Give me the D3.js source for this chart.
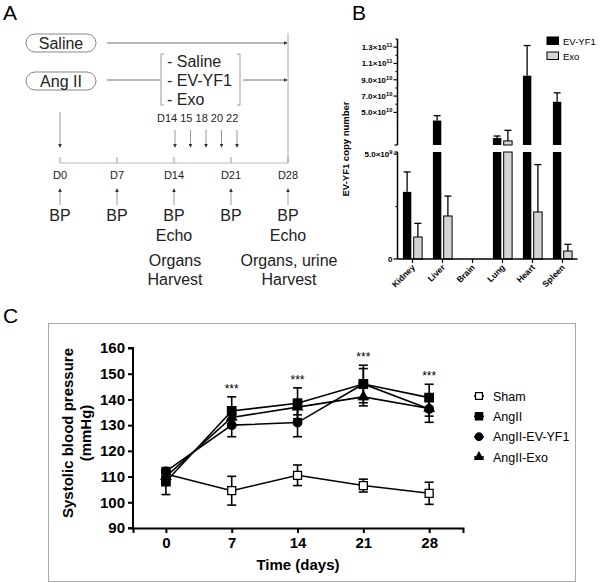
<!DOCTYPE html>
<html><head><meta charset="utf-8">
<script src="https://cdn.jsdelivr.net/npm/d3@7"></script>
<style>body{margin:0;background:#fff} svg{display:block} text{font-family:Arial,"Liberation Sans",sans-serif}</style>
</head><body><svg id="c" width="600" height="583"></svg>
<script>
// ---------- Panel A data ----------
const timelineDays = [0, 7, 14, 21, 28];
const timelineLabels = ["D0", "D7", "D14", "D21", "D28"];
const measureLabels = [["BP"], ["BP"], ["BP", "Echo"], ["BP"], ["BP", "Echo"]];
const harvestLabels = [[], [], ["Organs", "Harvest"], [], ["Organs, urine", "Harvest"]];
const injectionLabels = ["D14", "15", "18", "20", "22"];
const groupNames = ["Saline", "Ang II"];
const treatments = ["- Saline", "- EV-YF1", "- Exo"];

// ---------- Panel B data ----------
const organs = ["Kidney", "Liver", "Brain", "Lung", "Heart", "Spleen"];
const evyf1Copies = [3.2e9, 4.0e10, 0, 1.85e10, 9.5e10, 6.3e10];
const evyf1Err = [0.95e9, 0.6e10, 0, 0.25e10, 3.7e10, 1.1e10];
const exoCopies = [1.05e9, 2.05e9, 0, 1.5e10, 2.24e9, 0.38e9];
const exoErr = [0.65e9, 0.95e9, 0, 1.3e10, 2.26e9, 0.32e9];
const upperMajorTicks = [5e10, 7e10, 9e10, 1.1e11, 1.3e11];
const upperMinorTicks = [6e10, 8e10, 1e11, 1.2e11, 1.4e11];
const lowerMajorTicks = [0, 5e9];
const lowerMinorTicks = [2.5e9];
const seriesB = ["EV-YF1", "Exo"];

// ---------- Panel C data ----------
const daysC = [0, 7, 14, 21, 28];
const groupsC = ["Sham", "AngII", "AngII-EV-YF1", "AngII-Exo"];
const shamBP = [111, 104.5, 110.5, 106.5, 103.5];
const shamSD = [2, 5.6, 4, 2.5, 4.3];
const angIIBP = [108, 135.5, 138.5, 146, 140.7];
const angIISD = [5, 5.5, 6, 6, 5.2];
const evyf1BP = [112, 130, 131, 146, 136.3];
const evyf1SD = [1.5, 4.5, 5.5, 7.3, 5.2];
const exoBP = [110, 133, 137, 141, 136.5];
const exoSD = [2, 3, 3, 3.5, 3];
const yTicksC = [90, 100, 110, 120, 130, 140, 150, 160];
const signif = ["", "***", "***", "***", "***"];

const svg = d3.select("#c");
const FONT = 'Arial,"Liberation Sans",sans-serif';

// Panel letters
[["A", 3, 20], ["B", 352, 20], ["C", 3, 323]].forEach(([t, x, y]) =>
  svg.append("text").attr("x", x).attr("y", y).attr("font-size", 21).text(t));

// ================= PANEL A =================
(function () {
  const g = svg.append("g");
  const gray = "#707070";
  const x = d3.scaleLinear().domain([0, 28]).range([60, 288]);
  const inj = d3.scalePoint().domain(injectionLabels).range([175, 237]);
  const rowY = d3.scalePoint().domain(groupNames).range([43, 81]);

  const defs = svg.append("defs");
  defs.append("marker").attr("id", "ah").attr("viewBox", "0 0 6 6").attr("refX", 5).attr("refY", 3)
    .attr("markerWidth", 4).attr("markerHeight", 4).attr("orient", "auto")
    .append("path").attr("d", "M0,0L6,3L0,6Z").attr("fill", "#333");

  groupNames.forEach((n, i) => {
    const cy = rowY(n);
    g.append("rect").attr("x", 26).attr("y", cy - 9).attr("width", 70).attr("height", 18)
      .attr("rx", 9).attr("fill", "#fff").attr("stroke", "#888").attr("stroke-width", 1);
    g.append("text").attr("x", 61).attr("y", cy + 5.5).attr("text-anchor", "middle")
      .attr("font-size", 16).attr("fill", "#222").text(n);
  });
  g.append("line").attr("x1", 107).attr("x2", 287).attr("y1", rowY("Saline")).attr("y2", rowY("Saline"))
    .attr("stroke", gray).attr("marker-end", "url(#ah)");
  const ay = rowY("Ang II") - 1;
  g.append("line").attr("x1", 107).attr("x2", 160).attr("y1", ay).attr("y2", ay).attr("stroke", gray);
  g.append("line").attr("x1", 243).attr("x2", 287).attr("y1", ay).attr("y2", ay).attr("stroke", gray).attr("marker-end", "url(#ah)");
  g.append("path").attr("d", "M164,54H161V105H164").attr("fill", "none").attr("stroke", "#999");
  g.append("path").attr("d", "M237,54H240V105H237").attr("fill", "none").attr("stroke", "#999");
  const ty = d3.scalePoint().domain(treatments).range([61, 99]);
  treatments.forEach(t => g.append("text").attr("x", 167).attr("y", ty(t) + 6).attr("font-size", 16)
    .attr("fill", "#222").text(t));

  g.append("line").attr("x1", x(28)).attr("x2", x(28)).attr("y1", 33).attr("y2", 163).attr("stroke", "#aaa");

  g.append("text").attr("x", 157).attr("y", 122).attr("font-size", 11).attr("fill", "#222")
    .text(injectionLabels.join(" "));
  injectionLabels.forEach(l => g.append("line").attr("x1", inj(l)).attr("x2", inj(l))
    .attr("y1", 130).attr("y2", 147).attr("stroke", "#999").attr("marker-end", "url(#ah)"));
  g.append("line").attr("x1", x(0)).attr("x2", x(0)).attr("y1", 112).attr("y2", 147)
    .attr("stroke", "#999").attr("marker-end", "url(#ah)");

  g.append("line").attr("x1", x(0)).attr("x2", x(28)).attr("y1", 163).attr("y2", 163).attr("stroke", "#bbb");
  timelineDays.forEach((d, i) => {
    g.append("line").attr("x1", x(d)).attr("x2", x(d)).attr("y1", 157).attr("y2", 163).attr("stroke", "#999");
    g.append("text").attr("x", x(d)).attr("y", 179).attr("text-anchor", "middle").attr("font-size", 11)
      .attr("fill", "#222").text(timelineLabels[i]);
    g.append("line").attr("x1", x(d)).attr("x2", x(d)).attr("y1", 205).attr("y2", 189)
      .attr("stroke", "#999").attr("marker-end", "url(#ah)");
    measureLabels[i].forEach((m, j) => g.append("text").attr("x", x(d)).attr("y", 221 + j * 20)
      .attr("text-anchor", "middle").attr("font-size", 16).attr("fill", "#222").text(m));
    harvestLabels[i].forEach((m, j) => g.append("text").attr("x", x(d) + 1).attr("y", 266 + j * 19)
      .attr("text-anchor", "middle").attr("font-size", 16).attr("fill", "#222").text(m));
  });
})();

// ================= PANEL B =================
(function () {
  const g = svg.append("g");
  const ax = 397.5, x0 = 397.5, x1 = 577.5;
  const upMin = 1e10, lowMax = 5.1e9;
  const yUp = d3.scaleLinear().domain([upMin, 1.4e11]).range([145, 39]);
  const yLow = d3.scaleLinear().domain([0, lowMax]).range([259, 152]);
  const yTop = v => v > lowMax ? yUp(v) : yLow(v);
  const xb = d3.scaleBand().domain(organs).range([x0, x1]);
  const sx = d3.scaleBand().domain(seriesB).range([-9.6, 9.6]).paddingInner(0.22);
  const fills = { "EV-YF1": "#000", "Exo": "#d4d4d4" };

  const fmt = v => {
    if (v === 0) return { m: "0", e: "" };
    const e = Math.floor(Math.log10(v));
    return { m: (v / Math.pow(10, e)).toFixed(1) + "×10", e: String(e) };
  };

  g.append("line").attr("x1", ax).attr("x2", ax).attr("y1", yUp(1.4e11)).attr("y2", yUp(upMin)).attr("stroke", "#000").attr("stroke-width", 1.5);
  g.append("line").attr("x1", ax).attr("x2", ax).attr("y1", yLow(lowMax)).attr("y2", yLow(0)).attr("stroke", "#000").attr("stroke-width", 1.5);
  const tick = (y, len) => g.append("line").attr("x1", ax - len).attr("x2", ax).attr("y1", y).attr("y2", y).attr("stroke", "#000").attr("stroke-width", 1.2);
  upperMajorTicks.forEach(v => tick(yUp(v), 4));
  upperMinorTicks.forEach(v => tick(yUp(v), 2));
  lowerMajorTicks.forEach(v => tick(yLow(v), 4));
  lowerMinorTicks.forEach(v => tick(yLow(v), 2));
  tick(yUp(upMin), 3); tick(yLow(lowMax), 3);
  const lab = (v, y) => {
    const f = fmt(v);
    const t = g.append("text").attr("x", ax - 5).attr("y", y + 2.8).attr("text-anchor", "end")
      .attr("font-size", 8).attr("font-weight", "bold");
    t.append("tspan").text(f.m);
    if (f.e) t.append("tspan").attr("font-size", 5.8).attr("dy", -3).text(f.e);
  };
  upperMajorTicks.forEach(v => lab(v, yUp(v)));
  lowerMajorTicks.forEach(v => lab(v, yLow(v)));

  const series = [
    { name: "EV-YF1", vals: evyf1Copies, err: evyf1Err },
    { name: "Exo", vals: exoCopies, err: exoErr }
  ];
  series.forEach(s => {
    organs.forEach((o, i) => {
      const v = s.vals[i];
      if (v <= 0) return;
      const bx = xb(o) + xb.bandwidth() / 2 + sx(s.name);
      const bw = sx.bandwidth();
      const rects = v > lowMax ? [[yLow(lowMax), yLow(0)], [yUp(v), yUp(upMin)]] : [[yLow(v), yLow(0)]];
      rects.forEach(([a, b]) => g.append("rect").attr("x", bx).attr("y", a).attr("width", bw).attr("height", b - a)
        .attr("fill", fills[s.name]).attr("stroke", "#000").attr("stroke-width", s.name === "Exo" ? 1 : 0));
      const ve = v + s.err[i];
      const cx = bx + bw / 2;
      g.append("line").attr("x1", cx).attr("x2", cx).attr("y1", yTop(v)).attr("y2", yTop(ve)).attr("stroke", "#000").attr("stroke-width", 1.3);
      g.append("line").attr("x1", cx - 3.5).attr("x2", cx + 3.5).attr("y1", yTop(ve)).attr("y2", yTop(ve)).attr("stroke", "#000").attr("stroke-width", 1.3);
    });
  });

  g.append("line").attr("x1", ax).attr("x2", x1).attr("y1", yLow(0)).attr("y2", yLow(0)).attr("stroke", "#000").attr("stroke-width", 1.5);
  organs.forEach(o => {
    const cx = xb(o) + xb.bandwidth() / 2;
    g.append("line").attr("x1", cx).attr("x2", cx).attr("y1", yLow(0)).attr("y2", yLow(0) + 4).attr("stroke", "#000").attr("stroke-width", 1.2);
    g.append("text").attr("transform", `translate(${cx + 3},${yLow(0) + 9}) rotate(-45)`)
      .attr("text-anchor", "end").attr("font-size", 8.5).attr("font-weight", "bold").text(o);
  });

  g.append("text").attr("transform", `translate(349,149) rotate(-90)`).attr("text-anchor", "middle")
    .attr("font-size", 9.5).attr("font-weight", "bold").text("EV-YF1 copy number");

  const ly = d3.scalePoint().domain(seriesB).range([41, 56]);
  seriesB.forEach(s => {
    g.append("rect").attr("x", 547).attr("y", ly(s) - 4).attr("width", 11.5).attr("height", 7.5)
      .attr("fill", fills[s]).attr("stroke", "#000").attr("stroke-width", 1);
    g.append("text").attr("x", 563).attr("y", ly(s) + 3.5).attr("font-size", 9.5).text(s);
  });
})();

// ================= PANEL C =================
(function () {
  const g = svg.append("g");
  g.append("rect").attr("x", 48.5).attr("y", 323.5).attr("width", 527).attr("height", 258)
    .attr("fill", "none").attr("stroke", "#aaa").attr("stroke-width", 1);
  const x = d3.scaleLinear().domain([-3.5, 31.6]).range([133, 463]);
  const y = d3.scaleLinear().domain([90, 160]).range([528, 348]);

  const yAx = g.append("g").attr("transform", "translate(133,0)")
    .call(d3.axisLeft(y).tickValues(yTicksC).tickSize(5).tickPadding(3));
  const xAx = g.append("g").attr("transform", "translate(0,528)")
    .call(d3.axisBottom(x).tickValues(daysC).tickSize(5).tickPadding(4));
  [yAx, xAx].forEach(a => {
    a.select(".domain").attr("stroke-width", 2);
    a.selectAll(".tick line").attr("stroke-width", 2);
    a.selectAll("text").attr("font-size", 15).attr("font-weight", "bold").attr("font-family", FONT).attr("fill", "#000");
  });
  yAx.select(".domain").attr("d", `M-5,${y(90)}H0V${y(160)}H-5`);

  g.append("text").attr("x", 298).attr("y", 570).attr("text-anchor", "middle").attr("font-size", 15)
    .attr("font-weight", "bold").text("Time (days)");
  const yt = g.append("text").attr("transform", `translate(73,433) rotate(-90)`).attr("text-anchor", "middle")
    .attr("font-size", 15).attr("font-weight", "bold");
  yt.append("tspan").attr("x", 0).attr("dy", 0).text("Systolic blood pressure");
  yt.append("tspan").attr("x", 0).attr("dy", 18).text("(mmHg)");

  const S = d3.symbol();
  const series = [
    { name: "Sham", v: shamBP, e: shamSD, type: d3.symbolSquare, size: 64, fill: "#fff" },
    { name: "AngII", v: angIIBP, e: angIISD, type: d3.symbolSquare, size: 72, fill: "#000" },
    { name: "AngII-EV-YF1", v: evyf1BP, e: evyf1SD, type: d3.symbolCircle, size: 58, fill: "#000" },
    { name: "AngII-Exo", v: exoBP, e: exoSD, type: d3.symbolTriangle, size: 40, fill: "#000" }
  ];
  const line = d3.line().x((d, i) => x(daysC[i])).y(d => y(d));
  series.forEach(s => g.append("path").attr("d", line(s.v)).attr("fill", "none").attr("stroke", "#000").attr("stroke-width", 1.6));
  series.forEach(s => {
    s.v.forEach((v, i) => {
      const cx = x(daysC[i]);
      const t = y(v + s.e[i]), b = y(v - s.e[i]);
      g.append("line").attr("x1", cx).attr("x2", cx).attr("y1", t).attr("y2", b).attr("stroke", "#000").attr("stroke-width", 1.6);
      [t, b].forEach(yy => g.append("line").attr("x1", cx - 4.5).attr("x2", cx + 4.5).attr("y1", yy).attr("y2", yy).attr("stroke", "#000").attr("stroke-width", 1.6));
    });
  });
  series.forEach(s => {
    s.v.forEach((v, i) => {
      g.append("path").attr("d", S.type(s.type).size(s.size)()).attr("transform", `translate(${x(daysC[i])},${y(v)})`)
        .attr("fill", s.fill).attr("stroke", "#000").attr("stroke-width", 1.3);
    });
  });
  daysC.forEach((d, i) => {
    if (!signif[i]) return;
    const top = d3.max(series.slice(1), s => s.v[i] + s.e[i]);
    g.append("text").attr("x", x(d)).attr("y", y(top) - 4).attr("text-anchor", "middle")
      .attr("font-size", 12).text(signif[i]);
  });
  const ly = d3.scalePoint().domain(groupsC).range([396, 457]);
  series.forEach(s => {
    const yy = ly(s.name);
    g.append("line").attr("x1", 474).attr("x2", 484).attr("y1", yy).attr("y2", yy).attr("stroke", "#000").attr("stroke-width", 1.5);
    g.append("path").attr("d", S.type(s.type).size(s.size * 0.75)()).attr("transform", `translate(479,${yy})`)
      .attr("fill", s.fill).attr("stroke", "#000").attr("stroke-width", 1.2);
    g.append("text").attr("x", 493).attr("y", yy + 4.5).attr("font-size", 12.5).text(s.name);
  });
})();
</script></body></html>
